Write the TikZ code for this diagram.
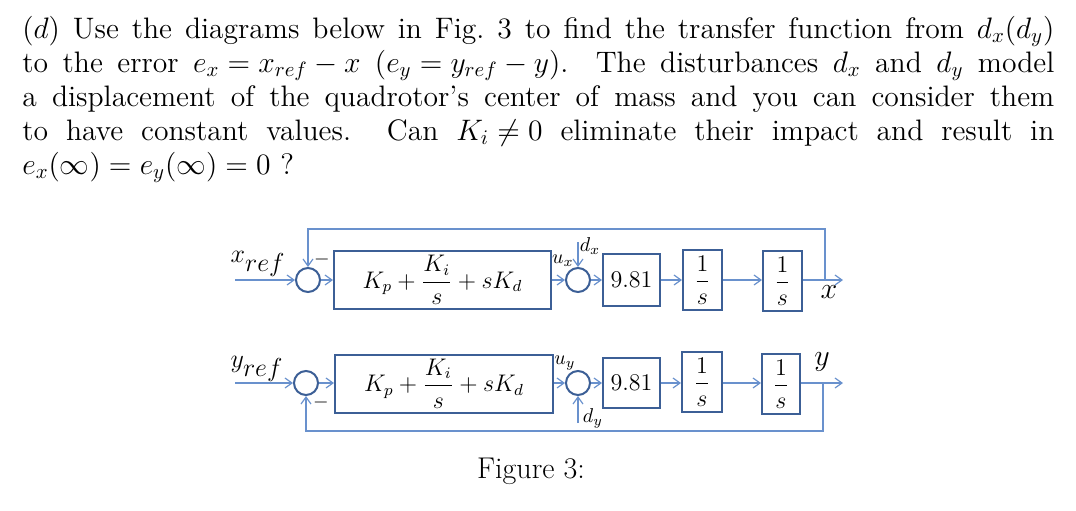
\RequirePackage{fix-cm}
\documentclass[tikz,border=0pt]{standalone}
\usetikzlibrary{arrows.meta}
\definecolor{sig}{RGB}{105,145,205}
\definecolor{edge}{RGB}{60,95,150}
\newcommand\partxtfont{\fontsize{14.8}{17}\selectfont\thickmuskip=5mu\relax\medmuskip=4mu\relax}
\begin{document}
\begin{tikzpicture}[x=0.5pt,y=-0.5pt,
  txt/.style={inner sep=0pt,anchor=base west,font=\partxtfont},
  blk/.style={draw=edge,line width=1pt,fill=white,inner sep=0pt,font=\fontsize{12}{14}\selectfont},
  sumnode/.style={circle,draw=edge,line width=1pt,minimum size=12pt,inner sep=0pt},
  sigline/.style={draw=sig,line width=0.6pt},
  arr/.style={sigline,-{Straight Barb[length=3.5pt,width=5pt]}},
  lab/.style={inner sep=0pt,font=\fontsize{10}{12}\selectfont},
  biglab/.style={inner sep=0pt,font=\fontsize{13}{15}\selectfont},
  outlab/.style={inner sep=0pt,font=\fontsize{15}{17}\selectfont}]
\useasboundingbox (0,0) rectangle (1076,510);
% paragraph
\node[txt] (l1) at (22,38) {\makebox[516pt][s]{$(d)$ Use the diagrams below in Fig.~3 to find the transfer function from $d_x(d_y)$}};
\node[txt] (l2) at (22,72) {\makebox[516pt][s]{to the error $e_x = x_{ref} - x$ $(e_y = y_{ref} - y)$. The disturbances $d_x$ and $d_y$ model}};
\node[txt] (l3) at (22,106) {\makebox[516pt][s]{a displacement of the quadrotor's center of mass and you can consider them}};
\node[txt] (l4) at (22,140) {\makebox[516pt][s]{to have constant values.\ \ Can $K_i \neq 0$ eliminate their impact and result in}};
\node[txt] (l5) at (22,174) {$e_x(\infty) = e_y(\infty) = 0$ ?};
% top row
\coordinate (inx) at (235,280);
\node[sumnode] (s1) at (308,280) {};
\node[blk,minimum width=108.5pt,minimum height=29pt] (p1) at (442.5,280) {$\displaystyle K_p + \frac{K_i}{s} + sK_d$};
\node[sumnode] (s2) at (578,280) {};
\node[blk,minimum width=28.5pt,minimum height=26pt] (g1) at (631.5,280) {$9.81$};
\node[blk,minimum width=19.5pt,minimum height=30pt] (i1) at (702.5,280) {$\displaystyle\frac{1}{s}$};
\node[blk,minimum width=19.5pt,minimum height=30pt] (i2) at (782.5,281) {$\displaystyle\frac{1}{s}$};
\coordinate (outx) at (843,280);
\coordinate (fbx) at (825,280);
\coordinate (dxs) at (578,242);
\draw[arr] (inx) -- (s1);
\draw[arr] (s1) -- (p1);
\draw[arr] (p1) -- (s2);
\draw[arr] (s2) -- (g1);
\draw[arr] (g1) -- (i1);
\draw[arr] (i1) -- (i2.west|-i1);
\draw[arr] (i2.east|-outx) -- (outx);
\draw[arr] (fbx) -- (825,229) -| (s1.north);
\draw[arr] (dxs) -- (s2.north);
\node[biglab,anchor=base] (xr) at (258,262) {$x_{\textstyle ref}$};
\node[lab] (m1) at (322,259) {$-$};
\node[lab] (ux) at (563,261) {$u_x$};
\node[lab] (dx) at (590,246) {$d_x$};
\node[outlab] (xo) at (829,292) {$x$};
% bottom row
\coordinate (iny) at (235,383);
\node[sumnode] (s3) at (306,383) {};
\node[blk,minimum width=109pt,minimum height=29pt] (p2) at (444,383.5) {$\displaystyle K_p + \frac{K_i}{s} + sK_d$};
\node[sumnode] (s4) at (578,383) {};
\node[blk,minimum width=28.5pt,minimum height=25pt] (g2) at (631.5,383) {$9.81$};
\node[blk,minimum width=20pt,minimum height=30pt] (i3) at (702,382) {$\displaystyle\frac{1}{s}$};
\node[blk,minimum width=19pt,minimum height=30pt] (i4) at (781,384) {$\displaystyle\frac{1}{s}$};
\coordinate (outy) at (843,383);
\coordinate (fby) at (823,383);
\coordinate (dys) at (578,423);
\draw[arr] (iny) -- (s3);
\draw[arr] (s3) -- (p2.west|-s3);
\draw[arr] (p2.east|-s4) -- (s4);
\draw[arr] (s4) -- (g2);
\draw[arr] (g2) -- (i3.west|-g2);
\draw[arr] (i3.east|-g2) -- (i4.west|-g2);
\draw[arr] (i4.east|-outy) -- (outy);
\draw[arr] (fby) -- (823,431) -| (s3.south);
\draw[arr] (dys) -- (s4.south);
\node[biglab,anchor=base] (yr) at (257,367) {$y_{\textstyle ref}$};
\node[lab] (m2) at (321,402) {$-$};
\node[lab] (uy) at (565,363) {$u_y$};
\node[lab] (dy) at (593,418) {$d_y$};
\node[outlab] (yo) at (822,362) {$y$};
% caption
\node[inner sep=0pt,anchor=base,font=\fontsize{15}{17}\selectfont] (cap) at (531,478) {Figure 3:};
\end{tikzpicture}
\end{document}
